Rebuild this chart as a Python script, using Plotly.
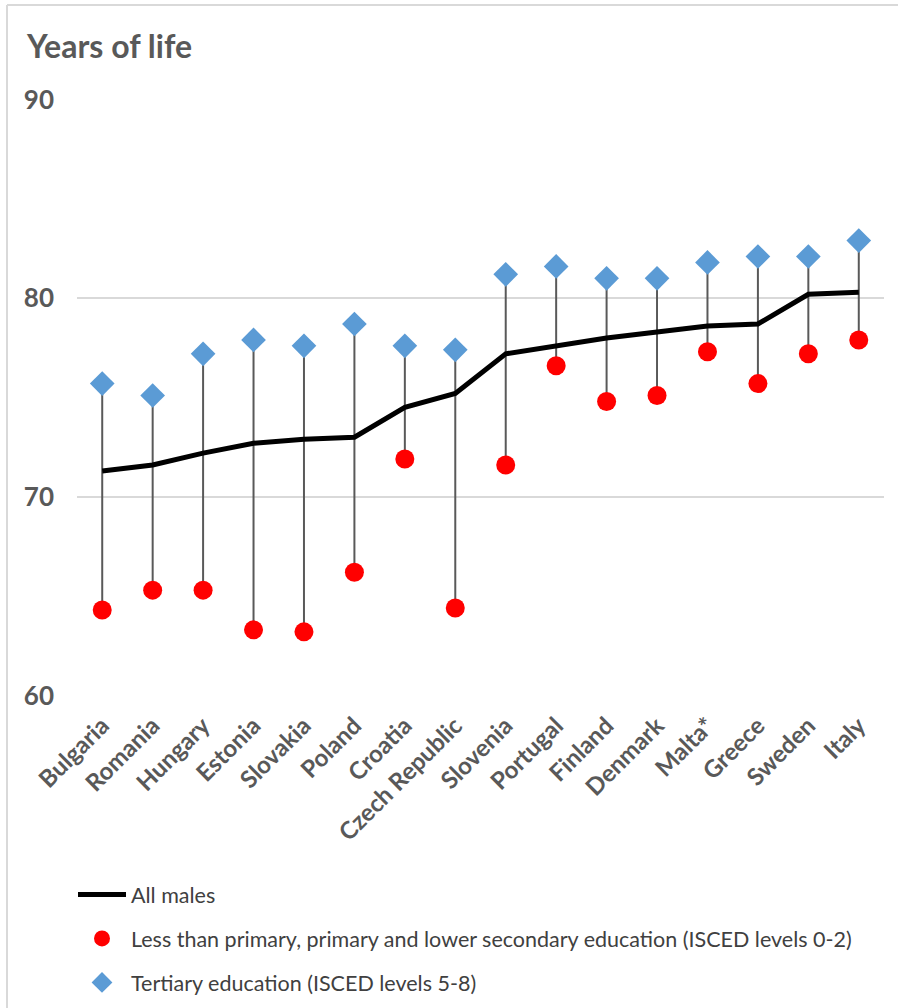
import plotly.graph_objects as go

countries = ["Bulgaria", "Romania", "Hungary", "Estonia", "Slovakia", "Poland", "Croatia",
             "Czech Republic", "Slovenia", "Portugal", "Finland", "Denmark", "Malta*",
             "Greece", "Sweden", "Italy"]
all_males = [71.3, 71.6, 72.2, 72.7, 72.9, 73.0, 74.5, 75.2, 77.2, 77.6, 78.0, 78.3, 78.6, 78.7, 80.2, 80.3]
low_edu = [64.3, 65.3, 65.3, 63.3, 63.2, 66.2, 71.9, 64.4, 71.6, 76.6, 74.8, 75.1, 77.3, 75.7, 77.2, 77.9]
tertiary = [75.7, 75.1, 77.2, 77.9, 77.6, 78.7, 77.6, 77.4, 81.2, 81.6, 81.0, 81.0, 81.8, 82.1, 82.1, 82.9]

y_ticks = [60, 70, 80, 90]

FONT = "Lato"
GREY = "#595959"

# High-low connector lines
vx, vy = [], []
for c, lo, hi in zip(countries, low_edu, tertiary):
    vx += [c, c, None]
    vy += [lo, hi, None]

fig = go.Figure()
fig.add_trace(go.Scatter(x=vx, y=vy, mode="lines", line=dict(color="#595959", width=2),
                         showlegend=False, hoverinfo="skip"))
fig.add_trace(go.Scatter(x=countries, y=all_males, mode="lines", name="All males",
                         line=dict(color="black", width=5), legendgroup="a"))
fig.add_trace(go.Scatter(x=countries, y=low_edu, mode="markers",
                         name="Less than primary, primary and lower secondary education (ISCED levels 0-2)",
                         marker=dict(symbol="circle", size=19, color="#ff0000"), legendgroup="b"))
fig.add_trace(go.Scatter(x=countries, y=tertiary, mode="markers",
                         name="Tertiary education (ISCED levels 5-8)",
                         marker=dict(symbol="diamond", size=19, color="#5b9bd5"), legendgroup="c"))

L, R, T, B = 77, 14, 99, 312
W, H = 898, 1008
pw = W - L - R
ph = H - T - B

fig.update_layout(
    width=W, height=H,
    margin=dict(l=L, r=R, t=T, b=B),
    paper_bgcolor="white", plot_bgcolor="white",
    font=dict(family=FONT, color=GREY),
    title=dict(text="<b>Years of life</b>", x=27 / W, xanchor="left", y=1 - 47 / H, yanchor="middle",
               font=dict(size=32, color=GREY, family=FONT)),
    xaxis=dict(type="category", categoryorder="array", categoryarray=countries,
               tickangle=-45, showgrid=False, showline=False, ticks="", ticklabelstandoff=10,
               tickfont=dict(size=24, color=GREY, family=FONT, weight="bold"),
               range=[-0.5, len(countries) - 0.5]),
    yaxis=dict(range=[59.97, 90.03], tickvals=y_ticks, showgrid=True, gridcolor="#d9d9d9", gridwidth=1.5,
               zeroline=False, showline=False, ticks="", ticklabelstandoff=22,
               tickfont=dict(size=26, color=GREY, family=FONT, weight="bold")),
    legend=dict(x=-4 / pw, xanchor="left", yref="container", y=1 - 874 / H, yanchor="top",
                font=dict(size=21.5, color="#404040", family=FONT),
                tracegroupgap=13, itemwidth=48, bgcolor="rgba(0,0,0,0)"),
    showlegend=True,
)

# chart border (left and top edges visible in the reference)
fig.add_shape(type="line", xref="paper", yref="paper",
              x0=(7 - L) / pw, x1=(W + 5 - L) / pw, y0=1 + (T - 5) / ph, y1=1 + (T - 5) / ph,
              line=dict(color="#d9d9d9", width=2))
fig.add_shape(type="line", xref="paper", yref="paper",
              x0=(7 - L) / pw, x1=(7 - L) / pw, y0=1 + (T - 5) / ph, y1=-(B + 5) / ph,
              line=dict(color="#d9d9d9", width=2))

fig.write_html("out.html", config={"displayModeBar": False},
               post_script="document.body.style.margin='0';document.body.style.overflow='hidden';")
